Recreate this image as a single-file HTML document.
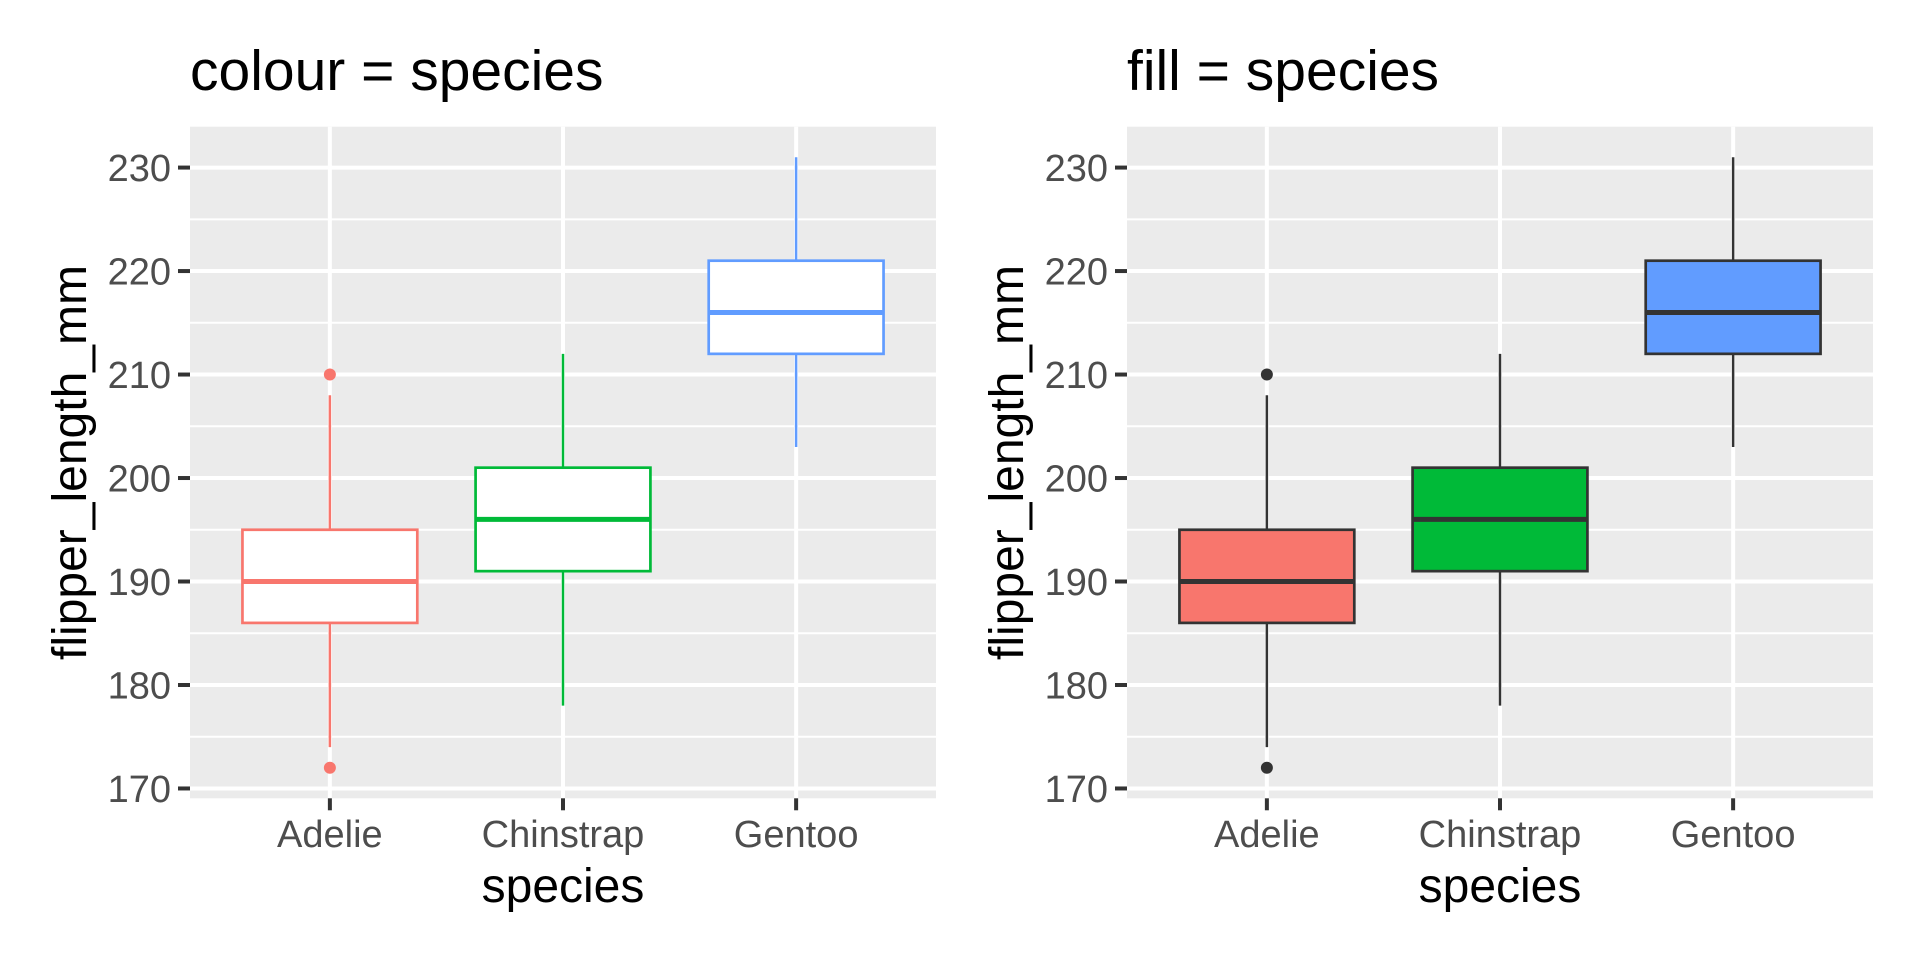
<!DOCTYPE html>
<html><head><meta charset="utf-8"><style>
html,body{margin:0;padding:0;background:#fff;}
svg{display:block;font-family:"Liberation Sans",Arial,sans-serif;}
</style></head><body>
<svg id="chart" width="1920" height="960" viewBox="0 0 1920 960"></svg>
<script>
const categories = ["Adelie", "Chinstrap", "Gentoo"];
const lowerWhisker = [174, 178, 203];
const q1Values = [186, 191, 212];
const medianValues = [190, 196, 216];
const q3Values = [195, 201, 221];
const upperWhisker = [208, 212, 231];
const outlierCats = [0, 0];
const outlierValues = [172, 210];
const colors = ["#F8766D", "#00BA38", "#619CFF"];
const yTicks = [170, 180, 190, 200, 210, 220, 230];
const yMinorTicks = [175, 185, 195, 205, 215, 225];
const yDomain = [169.05, 233.95];

const NS = "http://www.w3.org/2000/svg";
const svgRoot = document.getElementById("chart");
function mk(tag, attrs, parent) {
  const e = document.createElementNS(NS, tag);
  for (const k in attrs) e.setAttribute(k, attrs[k]);
  (parent || svgRoot).appendChild(e);
  return e;
}
const plotTop = 126.7, plotBottom = 798.3;
function yScale(v) { return plotBottom - (v - yDomain[0]) / (yDomain[1] - yDomain[0]) * (plotBottom - plotTop); }

function panel(left, right, mode, titleText, key) {
  const g = mk("g", {});
  
  
  const unit = (right - left) / 3.2;
  const xScale = i => left + (i + 0.6) * unit;
  const bg = mk("rect", {x: left, y: plotTop, width: right - left, height: plotBottom - plotTop, fill: "#EBEBEB"}, g);
  
  
  yMinorTicks.forEach(t => {
    const l = mk("line", {x1: left, x2: right, y1: yScale(t), y2: yScale(t), stroke: "#fff", "stroke-width": 2}, g);
    
    
  });
  yTicks.forEach(t => {
    const l = mk("line", {x1: left, x2: right, y1: yScale(t), y2: yScale(t), stroke: "#fff", "stroke-width": 4}, g);
    
    
    const tk = mk("line", {x1: left - 12, x2: left, y1: yScale(t), y2: yScale(t), stroke: "#333", "stroke-width": 4}, g);
    
    
    const tx = mk("text", {x: left - 19, y: yScale(t) + 13.5, "text-anchor": "end", "font-size": 38, fill: "#4D4D4D"}, g);
    tx.textContent = t;
    
    
  });
  categories.forEach((c, i) => {
    const x = xScale(i);
    const l = mk("line", {x1: x, x2: x, y1: plotTop, y2: plotBottom, stroke: "#fff", "stroke-width": 4}, g);
    
    
    const tk = mk("line", {x1: x, x2: x, y1: plotBottom, y2: plotBottom + 12, stroke: "#333", "stroke-width": 4}, g);
    
    
    const tx = mk("text", {x: x, y: 847, "text-anchor": "middle", "font-size": 38, fill: "#4D4D4D"}, g);
    tx.textContent = c;
    
    
  });
  categories.forEach((c, i) => {
    const x = xScale(i), hw = unit * 0.375;
    const stroke = mode === "colour" ? colors[i] : "#333333";
    const fill = mode === "colour" ? "#FFFFFF" : colors[i];
    const bg2 = mk("g", {}, g);
    
    
    mk("line", {x1: x, x2: x, y1: yScale(upperWhisker[i]), y2: yScale(q3Values[i]), stroke: stroke, "stroke-width": 2.5}, bg2);
    mk("line", {x1: x, x2: x, y1: yScale(q1Values[i]), y2: yScale(lowerWhisker[i]), stroke: stroke, "stroke-width": 2.5}, bg2);
    mk("rect", {x: x - hw, y: yScale(q3Values[i]), width: 2 * hw, height: yScale(q1Values[i]) - yScale(q3Values[i]), fill: fill, stroke: stroke, "stroke-width": 2.7}, bg2);
    mk("line", {x1: x - hw, x2: x + hw, y1: yScale(medianValues[i]), y2: yScale(medianValues[i]), stroke: stroke, "stroke-width": 5}, bg2);
  });
  outlierValues.forEach((v, j) => {
    const ci = outlierCats[j];
    const p = mk("circle", {cx: xScale(ci), cy: yScale(v), r: 6, fill: mode === "colour" ? colors[ci] : "#333333"}, g);
    
    
  });
  const cx = (left + right) / 2;
  const xt = mk("text", {x: cx, y: 902, "text-anchor": "middle", "font-size": 48, fill: "#000"}, g);
  xt.textContent = "species";
  
  
  const yx = left - 104, ym = (plotTop + plotBottom) / 2;
  const yt = mk("text", {x: yx, y: ym, "text-anchor": "middle", "font-size": 48, fill: "#000", transform: `rotate(-90 ${yx} ${ym})`}, g);
  yt.textContent = "flipper_length_mm";
  
  
  const tt = mk("text", {x: left, y: 90, "font-size": 57, fill: "#000"}, g);
  tt.textContent = titleText;
  
  
}
panel(190, 936, "colour", "colour = species", "colour");
panel(1127, 1873, "fill", "fill = species", "fill");
</script>
</body></html>
